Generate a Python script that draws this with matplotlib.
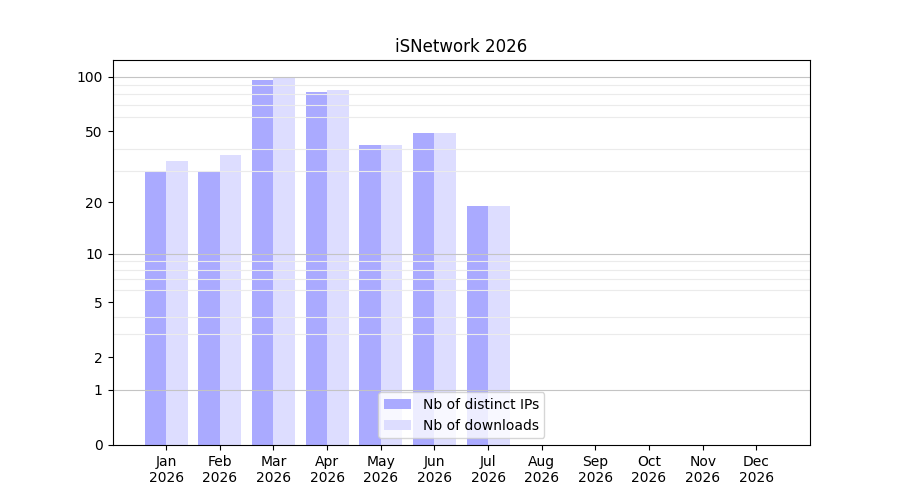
import numpy as np
import matplotlib
matplotlib.use("Agg")
import matplotlib.pyplot as plt

months = ["Jan", "Feb", "Mar", "Apr", "May", "Jun", "Jul", "Aug", "Sep", "Oct", "Nov", "Dec"]
year = "2026"
distinct_ips = [30, 30, 96, 82, 42, 49, 19]
downloads = [34, 37, 99, 84, 42, 49, 19]
ytick_values = [0, 1, 2, 5, 10, 20, 50, 100]

fig, ax = plt.subplots(figsize=(9, 5), dpi=100)
ax.set_yscale('function', functions=(lambda v: np.log10(np.clip(v, -0.999, None) + 1),
                                     lambda t: 10 ** t - 1))

x_ips = np.arange(len(distinct_ips))
x_dl = np.arange(len(downloads))
ax.bar(x_ips, distinct_ips, width=-0.4, align='edge', color='#aaaaff', label='Nb of distinct IPs')
ax.bar(x_dl, downloads, width=0.4, align='edge', color='#ddddff', label='Nb of downloads')

ax.set_xlim(-1, 12)
ax.set_ylim(0, 123.5)
ax.set_xticks(np.arange(len(months)))
ax.set_xticklabels([f"{m}\n{year}" for m in months])
ax.set_yticks(ytick_values)
ax.set_yticklabels([str(v) for v in ytick_values])

minor = list(range(2, 10)) + list(range(20, 100, 10))
ax.set_yticks(minor, minor=True)
ax.tick_params(axis='y', which='minor', length=0)
ax.grid(True, axis='y', which='minor', color='#ebebeb', linewidth=0.8)
for v in [1, 10, 100]:
    ax.axhline(v, color='#c4c4c4', linewidth=0.8, zorder=1.5)

ax.set_title("iSNetwork 2026")
ax.legend(loc='lower center')
fig.savefig("out.png")
